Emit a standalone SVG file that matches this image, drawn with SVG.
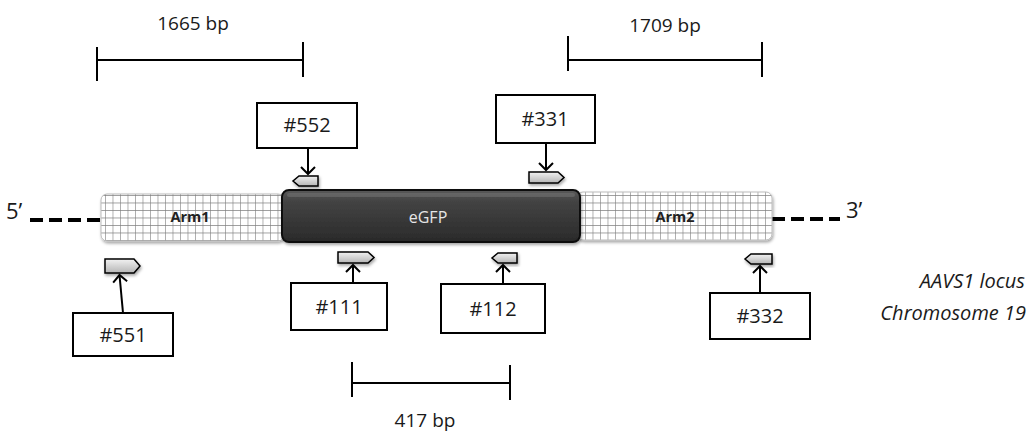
<svg xmlns="http://www.w3.org/2000/svg" width="1033" height="435" viewBox="0 0 1033 435">
<style>
text{font-family:"Open Sans","Liberation Sans",sans-serif;fill:#1a1a1a}
.lbl{font-size:20px;text-anchor:middle}
.bp{font-size:19px;text-anchor:middle}
.box{fill:#fff;stroke:#000;stroke-width:2}
.bar{stroke:#000;stroke-width:2;fill:none}
.conn{stroke:#000;stroke-width:2;fill:none;marker-end:url(#open)}
.primer{fill:url(#pg);stroke:#000;stroke-width:1.5;filter:url(#sh)}
.arm{font-size:14.5px;font-weight:bold;text-anchor:middle;fill:#222}
.dash{stroke:#000;stroke-width:4;stroke-dasharray:13 6}
.cap{font-size:20px;font-style:italic;text-anchor:end}
</style>
<defs>
<marker id="open" markerWidth="16" markerHeight="16" refX="8" refY="8" orient="auto" markerUnits="userSpaceOnUse">
<path d="M1,1 L8,8 L1,15" fill="none" stroke="#000" stroke-width="2"/>
</marker>
<linearGradient id="pg" x1="0" y1="0" x2="0" y2="1">
<stop offset="0" stop-color="#f2f2f2"/><stop offset="1" stop-color="#b5b5b5"/>
</linearGradient>
<linearGradient id="eg" x1="0" y1="0" x2="0" y2="1">
<stop offset="0" stop-color="#5a5a5a"/><stop offset="0.2" stop-color="#444"/><stop offset="1" stop-color="#2a2a2a"/>
</linearGradient>
<pattern id="grid" width="7.5" height="7.5" patternUnits="userSpaceOnUse">
<rect width="7.5" height="7.5" fill="#fff"/>
<path d="M0,0 H7.5 M0,0 V7.5" stroke="#7d7d7d" stroke-width="1.2"/>
</pattern>
<filter id="sh" x="-20%" y="-20%" width="140%" height="160%">
<feDropShadow dx="1" dy="2" stdDeviation="1.5" flood-color="#000" flood-opacity="0.35"/>
</filter>
</defs>

<g id="scale-1665">
<line class="bar" x1="97" y1="60" x2="303" y2="60"/>
<line class="bar" x1="97" y1="47" x2="97" y2="81"/>
<line class="bar" x1="303" y1="42" x2="303" y2="77"/>
<text class="bp" x="193" y="30">1665 bp</text>
</g>
<g id="scale-1709">
<line class="bar" x1="568" y1="60" x2="762" y2="60"/>
<line class="bar" x1="568" y1="36" x2="568" y2="71"/>
<line class="bar" x1="762" y1="42" x2="762" y2="77"/>
<text class="bp" x="665" y="32">1709 bp</text>
</g>
<g id="scale-417">
<line class="bar" x1="352" y1="383" x2="510" y2="383"/>
<line class="bar" x1="352" y1="362" x2="352" y2="397"/>
<line class="bar" x1="510" y1="365" x2="510" y2="400"/>
<text class="bp" x="425" y="427">417 bp</text>
</g>

<g id="locus">
<line class="dash" x1="30" y1="220" x2="101" y2="220"/>
<line class="dash" x1="772" y1="219" x2="840" y2="219"/>
<text x="6" y="219" style="font-size:22px">5’</text>
<text x="846" y="218" style="font-size:22px">3’</text>
</g>

<g id="arm1">
<rect x="101" y="194" width="183" height="47" rx="6" fill="url(#grid)" stroke="#bbb" stroke-width="1" filter="url(#sh)"/>
<text class="arm" x="190" y="222">Arm1</text>
</g>
<g id="arm2">
<rect x="577" y="192" width="195" height="48" rx="6" fill="url(#grid)" stroke="#bbb" stroke-width="1" filter="url(#sh)"/>
<text class="arm" x="675" y="222">Arm2</text>
</g>
<g id="egfp">
<rect x="282" y="190" width="298" height="52" rx="7" fill="url(#eg)" stroke="#111" stroke-width="2" filter="url(#sh)"/>
<rect x="287" y="193" width="288" height="4" rx="2" fill="#777" opacity="0.5"/>
<text x="428" y="223" style="font-size:16px;text-anchor:middle;fill:#e6e6e6">eGFP</text>
</g>

<g id="primer-552"><path class="primer" d="M318,176 H299 L293,181 L299,186 H318 Z"/></g>
<g id="primer-331"><path class="primer" d="M529,172 H558 L564,177.5 L558,183 H529 Z"/></g>
<g id="primer-111"><path class="primer" d="M338,252 H368 L374,257.5 L368,263 H338 Z"/></g>
<g id="primer-112"><path class="primer" d="M517,253 H498 L492,258 L498,263 H517 Z"/></g>
<g id="primer-551"><path class="primer" d="M105,259 H134 L140,266 L134,273 H105 Z"/></g>
<g id="primer-332"><path class="primer" d="M772,254 H751 L745,259 L751,264 H772 Z"/></g>

<g id="label-552"><rect class="box" x="257" y="103" width="100" height="45"/><text class="lbl" x="307" y="132">#552</text></g>
<g id="label-331"><rect class="box" x="496" y="95" width="99" height="48"/><text class="lbl" x="545" y="126">#331</text></g>
<g id="label-111"><rect class="box" x="291" y="283" width="96" height="47"/><text class="lbl" x="339" y="314">#111</text></g>
<g id="label-112"><rect class="box" x="441" y="284" width="104" height="49"/><text class="lbl" x="493" y="316">#112</text></g>
<g id="label-551"><rect class="box" x="73" y="313" width="100" height="43"/><text class="lbl" x="123" y="342">#551</text></g>
<g id="label-332"><rect class="box" x="710" y="293" width="100" height="46"/><text class="lbl" x="760" y="323">#332</text></g>

<g id="connectors">
<line class="conn" x1="308" y1="148" x2="308" y2="174"/>
<line class="conn" x1="546" y1="143" x2="546" y2="170"/>
<line class="conn" x1="353" y1="283" x2="353" y2="265"/>
<line class="conn" x1="503" y1="284" x2="503" y2="265"/>
<line class="conn" x1="123" y1="313" x2="119.5" y2="275"/>
<line class="conn" x1="760" y1="293" x2="760" y2="266"/>
</g>

<g id="caption">
<text class="cap" x="1025" y="288">AAVS1 locus</text>
<text class="cap" x="1026" y="320">Chromosome 19</text>
</g>
</svg>
